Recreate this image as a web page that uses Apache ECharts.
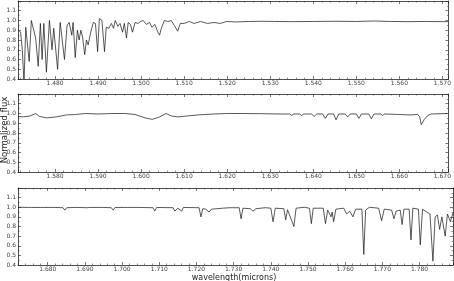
<!DOCTYPE html>
<html><head><meta charset="utf-8">
<script src="https://cdn.jsdelivr.net/npm/echarts@6/dist/echarts.min.js"></script>
<style>html,body{margin:0;padding:0;background:#fff}#c{width:454px;height:281px}</style>
</head><body><div id="c"></div>
<script>
// Panel 1
const w1 = [1.4715,1.4720,1.4724,1.4728,1.4732,1.4740,1.4745,1.4749,1.4755,1.4761,1.4766,1.4770,1.4774,1.4780,1.4787,1.4793,1.4797,1.4806,1.4812,1.4818,1.4822,1.4828,1.4833,1.4839,1.4842,1.4847,1.4852,1.4856,1.4860,1.4864,1.4869,1.4873,1.4877,1.4883,1.4889,1.4894,1.4899,1.4903,1.4909,1.4915,1.4919,1.4925,1.4931,1.4936,1.4940,1.4946,1.4951,1.4957,1.4961,1.4966,1.4970,1.4975,1.4980,1.4986,1.4993,1.4999,1.5005,1.5012,1.5020,1.5025,1.5032,1.5039,1.5043,1.5047,1.5054,1.5062,1.5070,1.5077,1.5085,1.5091,1.5100,1.5112,1.5123,1.5138,1.5154,1.5169,1.5184,1.5199,1.5220,1.5250,1.5280,1.5310,1.5350,1.5400,1.5450,1.5500,1.5540,1.5580,1.5620,1.5660,1.5713];
const f1 = [0.90,0.88,0.70,0.36,0.93,0.58,1.00,0.98,0.82,0.53,0.97,0.60,0.97,0.47,1.00,0.70,0.92,0.50,0.98,0.75,0.60,0.95,0.98,0.85,0.98,0.62,0.90,0.80,0.90,0.83,0.65,0.80,0.75,0.88,0.98,0.97,0.68,1.02,1.00,0.68,0.93,0.92,0.97,0.92,1.00,0.94,0.97,0.88,0.97,0.82,0.98,0.96,0.88,0.98,0.97,0.99,1.00,0.96,0.98,0.93,0.96,0.88,0.85,0.92,1.00,0.99,1.00,0.95,0.89,0.97,0.97,0.99,0.97,0.99,0.97,0.98,0.97,0.99,0.985,0.99,0.992,0.99,0.988,0.99,0.992,0.99,0.995,0.99,0.988,0.99,0.988];
// Panel 2
const w2 = [1.5714,1.5726,1.5742,1.5755,1.5764,1.5780,1.5803,1.5826,1.5848,1.5871,1.5902,1.5932,1.5963,1.5986,1.6009,1.6026,1.6043,1.6058,1.6070,1.6085,1.6108,1.6131,1.6169,1.6199,1.6232,1.6277,1.6323,
  1.6345,1.6350,1.6355,1.6368,1.6373,1.6378,1.6396,1.6402,1.6408,1.6422,1.6428,1.6434,1.6447,1.6453,1.6459,1.6474,1.6480,1.6486,1.6500,1.6506,1.6512,1.6529,1.6535,1.6541,1.6556,1.6561,1.6566,
  1.6598,1.6625,1.6642,1.6647,1.6651,1.6658,1.6666,1.6674,1.6712];
const f2 = [0.97,0.965,0.975,1.00,0.97,0.955,0.965,0.985,0.99,1.00,0.995,1.00,1.00,0.99,0.955,0.94,0.965,1.00,0.975,0.965,0.975,0.985,0.995,1.00,1.00,0.998,0.995,
  0.995,0.98,0.995,0.995,0.98,0.995,0.995,0.97,0.995,0.995,0.95,0.995,0.995,0.935,0.995,0.995,0.965,0.995,0.995,0.95,0.995,0.995,0.945,0.995,0.995,0.98,0.995,
  0.99,0.985,0.99,0.97,0.885,0.94,0.98,0.995,1.00];
// Panel 3
const w3 = [1.6721,1.6748,1.6752,1.6756,1.6780,1.6784,1.6788,1.6811,1.6815,1.6819,1.6841,1.6846,1.6851,1.6874,1.6878,1.6882,1.6905,1.6909,1.6913,1.6941,1.6945,1.6949,1.6971,1.6976,1.6981,1.7006,1.7010,1.7014,1.7035,1.7039,1.7043,1.7083,1.7088,1.7093,
  1.7137,1.7142,1.7150,1.7160,1.7165,1.7207,1.7212,1.7217,1.7225,1.7234,1.7240,1.7245,1.7255,1.7270,1.7290,1.7315,1.7320,1.7325,1.7345,1.7352,1.7360,1.7385,1.7400,1.7406,1.7412,1.7435,1.7440,1.7445,1.7462,1.7468,1.7490,
  1.7504,1.7509,1.7514,1.7541,1.7547,1.7553,1.7562,1.7565,1.7569,1.7575,1.7596,1.7604,1.7612,1.7621,1.7628,1.7645,1.7650,1.7655,1.7665,1.7690,1.7698,1.7705,1.7725,1.7731,1.7737,1.7748,1.7753,1.7758,
  1.7772,1.7777,1.7782,1.7797,1.7802,1.7808,1.7820,1.7828,1.7836,1.7842,1.7848,1.7854,1.7860,1.7869,1.7875,1.7883,1.7890];
const f3 = [1.00,0.998,0.98,0.998,0.998,0.98,0.998,0.998,0.985,0.998,0.995,0.97,0.995,0.998,0.985,0.998,0.995,0.98,0.998,0.998,0.99,0.998,0.995,0.97,0.998,0.998,0.98,0.998,0.998,0.99,0.998,0.995,0.96,0.998,
  0.995,0.96,0.99,0.96,0.998,0.995,0.90,0.985,0.98,0.95,0.98,0.975,0.985,0.99,0.995,0.995,0.88,0.99,0.985,0.96,0.985,0.995,0.99,0.85,0.99,0.985,0.87,0.975,0.80,0.99,1.00,
  0.99,0.83,0.99,0.99,0.83,0.97,0.90,0.95,0.85,0.98,0.99,0.93,0.96,0.90,0.98,0.98,0.51,0.97,1.00,0.99,0.86,0.98,0.97,0.88,0.96,0.97,0.82,0.98,
  0.98,0.66,0.99,0.98,0.61,0.98,0.95,0.93,0.44,0.90,0.92,0.77,0.90,0.70,0.93,0.85,0.94];
const xRanges = [[1.4714,1.5714],[1.5714,1.6714],[1.6720,1.7890]];
const yTicks = [0.4,0.5,0.6,0.7,0.8,0.9,1.0,1.1];

const chart = echarts.init(document.getElementById('c'), null, {renderer:'canvas'});
const grids = [
  {left:18, right:1, top:1, height:78},
  {left:18, right:1, top:94, height:78},
  {left:18, right:1, top:188, height:77}
];
const FONT = 'DejaVu Sans';
const lineCol = '#222';
const xAxes = [], yAxes = [], series = [];
const W = [w1,w2,w3], F = [f1,f2,f3];
for (let i=0;i<3;i++){
  const base = {
    type:'value', gridIndex:i, min:xRanges[i][0], max:xRanges[i][1], splitNumber: i===2?12:10,
    axisLine:{show:true,lineStyle:{color:lineCol,width:0.8}},
    axisTick:{show:true,inside:true,length:3,lineStyle:{color:lineCol,width:0.6}},
    minorTick:{show:true,splitNumber:5,length:1.5,lineStyle:{color:lineCol,width:0.5}},
    splitLine:{show:false}
  };
  xAxes.push(Object.assign({}, base, {position:'bottom',
    axisLabel:{show:true,fontSize:6,color:'#444',fontFamily:FONT,margin:1.5,showMinLabel:false,showMaxLabel:false,
      formatter:v=>v.toFixed(3)}}));
  xAxes.push(Object.assign({}, base, {position:'top', axisLabel:{show:false}}));
  const ybase = {
    type:'value', gridIndex:i, min:0.4, max:1.2, interval:0.1,
    axisLine:{show:true,lineStyle:{color:lineCol,width:0.8}},
    axisTick:{show:true,inside:true,length:3,lineStyle:{color:lineCol,width:0.6}},
    minorTick:{show:true,splitNumber:2,length:1.5,lineStyle:{color:lineCol,width:0.5}},
    splitLine:{show:false}
  };
  yAxes.push(Object.assign({}, ybase, {position:'left',
    axisLabel:{show:true,fontSize:6,color:'#444',fontFamily:FONT,margin:2,
      formatter:v=>{const r=Math.round(v*10)/10; return yTicks.some(t=>Math.abs(t-r)<1e-6)?r.toFixed(1):'';}}}));
  yAxes.push(Object.assign({}, ybase, {position:'right', axisLabel:{show:false}}));
  series.push({type:'line', xAxisIndex:2*i, yAxisIndex:2*i, showSymbol:false, symbol:'none', clip:true,
    lineStyle:{color:'#111',width:0.7}, animation:false,
    data:W[i].map((w,j)=>[w,F[i][j]])});
}
chart.setOption({
  animation:false,
  grid:grids, xAxis:xAxes, yAxis:yAxes, series:series,
  graphic:[
    {type:'text', x:5, y:130, rotation:Math.PI/2, style:{text:'Normalized flux', x:0, y:0, font:'8.5px "DejaVu Sans"', fill:'#222', textAlign:'center', textVerticalAlign:'middle'}},
    {type:'text', x:234, y:278, style:{text:'wavelength(microns)', x:0, y:0, font:'8px "DejaVu Sans"', fill:'#222', textAlign:'center', textVerticalAlign:'middle'}}
  ]
});
</script></body></html>
